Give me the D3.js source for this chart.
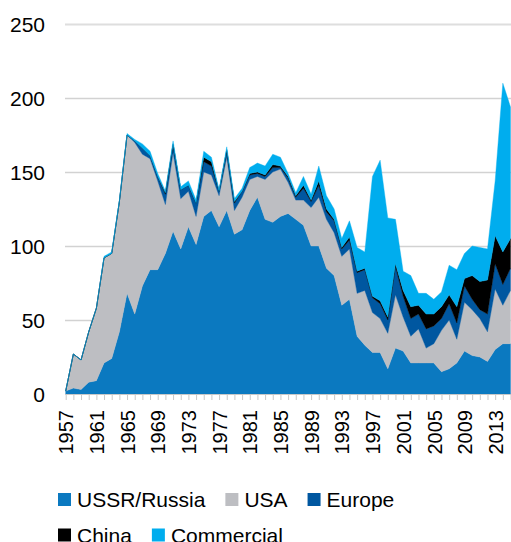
<!DOCTYPE html>
<html>
<head>
<meta charset="utf-8">
<script src="https://d3js.org/d3.v7.min.js"></script>
<style>
  body { margin: 0; background: #fff; }
  text { font-family: "Liberation Sans", Arial, sans-serif; fill: #000; }
</style>
</head>
<body>
<svg id="chart" width="511" height="542"></svg>
<script>
// years 1957..2015
var years = d3.range(1957, 2016);

var ussr = [2,4,3,8,9,21,24,42,68,54,73,84,84,95,110,98,113,101,120,124,
            113,124,108,111,124,133,118,116,120,122,118,114,100,100,85,80,60,64,39,33,
            28,28,17,31,29,21,21,21,21,15,17,21,29,26,25,22,30,34,34];
var usa = [0,23,20,34,49,71,71,88,107,116,89,75,60,33,53,34,24,19,30,24,
           21,36,16,22,21,14,27,34,32,21,13,17,26,33,33,29,33,34,29,37,
           27,23,24,36,23,18,23,10,13,28,33,16,33,31,26,20,41,26,36];
var europe = [0,0,0,0,0,0,0,0,0,1,4,2,3,7,5,6,4,9,7,6,
              3,4,5,4,3,2,2,3,1,3,2,8,4,8,5,8,5,6,14,14,
              10,10,9,19,14,12,10,13,12,8,11,11,11,7,6,12,17,14,15];
var china = [0,0,0,0,0,0,0,0,0,0,0,0,0,1,1,0,0,0,3,3,
             0,1,1,0,1,1,1,2,1,1,1,2,1,3,2,1,1,2,1,1,
             1,2,2,2,4,8,6,10,8,8,6,11,5,16,19,23,19,22,20];
var commercial = [0,0,0,0,0,1,1,1,1,1,3,3,2,1,2,2,3,2,4,3,
                  1,2,2,2,4,6,6,7,6,2,2,6,4,10,9,7,6,11,16,11,
                  81,95,67,30,13,21,8,14,10,10,20,25,17,20,23,21,37,114,89];

var seriesNames = ["USSR/Russia", "USA", "Europe", "China", "Commercial"];
var colors = ["#0b79c0", "#bdbec2", "#0057a0", "#000000", "#00adee"];
var yTicks = [0, 50, 100, 150, 200, 250];

var rows = years.map(function(y, i) {
  return {year: y, "USSR/Russia": ussr[i], "USA": usa[i], "Europe": europe[i],
          "China": china[i], "Commercial": commercial[i]};
});

var svg = d3.select("#chart");

var x = d3.scaleLinear().domain([1957, 2015]).range([65.7, 510.5]);
var y = d3.scaleLinear().domain([0, 250]).range([394, 24]);

// gridlines
svg.append("g")
  .selectAll("line")
  .data(yTicks.filter(function(d) { return d > 0; }))
  .enter().append("line")
  .attr("x1", 65).attr("x2", 511)
  .attr("y1", function(d) { return Math.round(y(d)) + 0.5; })
  .attr("y2", function(d) { return Math.round(y(d)) + 0.5; })
  .attr("stroke", function(d) { return d === 250 ? "#dedede" : "#d2d2d2"; })
  .attr("stroke-width", function(d) { return d === 250 ? 2 : 1.3; });

var stack = d3.stack().keys(seriesNames);
var layers = stack(rows);

var area = d3.area()
  .x(function(d) { return x(d.data.year); })
  .y0(function(d) { return y(d[0]); })
  .y1(function(d) { return y(d[1]); });

svg.append("g")
  .selectAll("path")
  .data(layers)
  .enter().append("path")
  .attr("d", area)
  .attr("fill", function(d, i) { return colors[i]; })
  .attr("stroke", function(d, i) { return colors[i]; })
  .attr("stroke-width", 0.4);

// y axis labels
svg.append("g")
  .selectAll("text")
  .data(yTicks)
  .enter().append("text")
  .attr("x", 45)
  .attr("y", function(d) { return y(d); })
  .attr("dy", "0.36em")
  .attr("text-anchor", "end")
  .style("font-size", "21px")
  .text(function(d) { return d; });

// x axis
var xAxis = d3.axisBottom(x)
  .tickValues(years)
  .tickSize(6)
  .tickFormat(function(d) { return (d - 1957) % 4 === 0 ? d : ""; });

var gx = svg.append("g")
  .attr("transform", "translate(0,394)")
  .call(xAxis);
gx.select(".domain").attr("stroke", "#c8c8c8").attr("d", "M65,0.5H511");
gx.selectAll(".tick line").attr("stroke", "#c8c8c8");
gx.selectAll(".tick text")
  .attr("transform", "rotate(-90)")
  .attr("x", -16)
  .attr("y", 0)
  .attr("dy", "0.36em")
  .attr("text-anchor", "end")
  .style("font-size", "20px")
  .style("font-family", "'Liberation Sans', Arial, sans-serif")
  .attr("fill", "#000");

// legend, two rows
var legendRows = [[0, 1, 2], [3, 4]];
var rowY = [499.5, 535];
legendRows.forEach(function(r, ri) {
  var cx = 58;
  r.forEach(function(k) {
    var g = svg.append("g");
    g.append("rect")
      .attr("x", cx).attr("y", rowY[ri] - 6.5)
      .attr("width", 13).attr("height", 13)
      .attr("fill", colors[k]);
    var t = g.append("text")
      .attr("x", cx + 19)
      .attr("y", rowY[ri])
      .attr("dy", "0.36em")
      .style("font-size", "21px")
      .text(seriesNames[k]);
    cx = cx + 19 + t.node().getComputedTextLength() + 20;
  });
});
</script>
</body>
</html>
